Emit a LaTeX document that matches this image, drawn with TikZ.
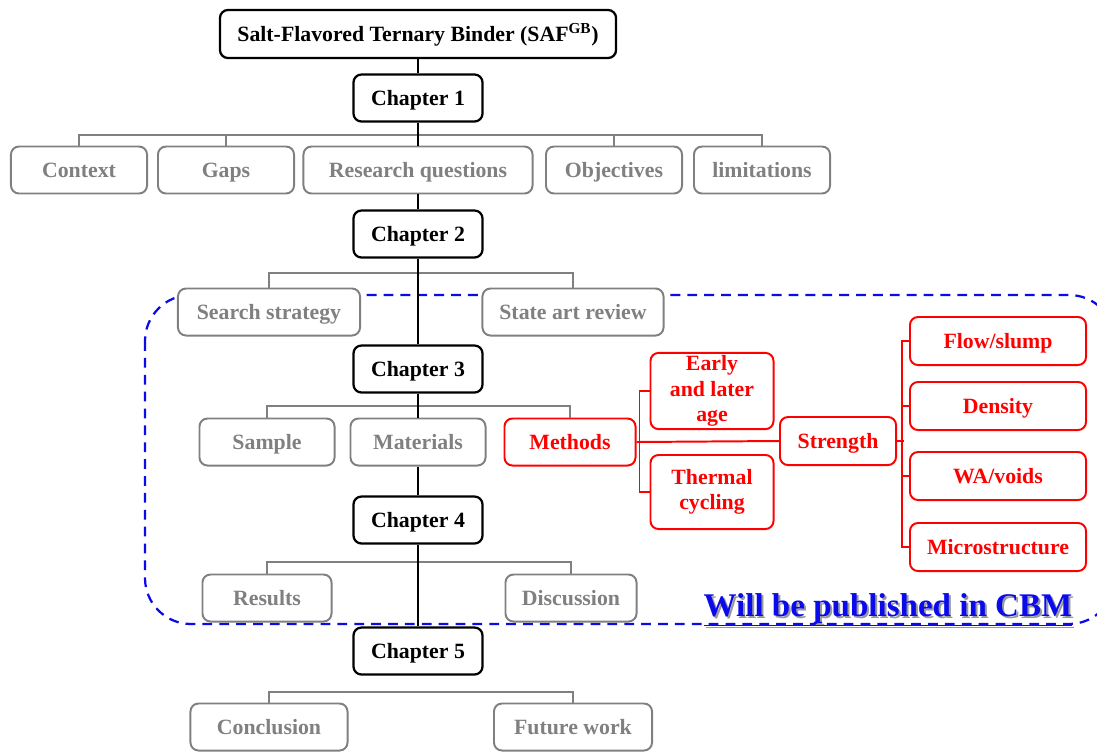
\documentclass[tikz,border=0pt]{standalone}
\usepackage{fontspec}
\setmainfont{Liberation Serif}
\usepackage{xcolor}
\usepackage{tikz}
\definecolor{boxgrey}{RGB}{128,128,128}
\definecolor{boxred}{RGB}{255,0,0}
\definecolor{cbmblue}{RGB}{10,10,235}

\begin{document}
\begin{tikzpicture}[x=0.025cm, y=-0.025cm, line width=1.4pt,
	every node/.style={font=\fontsize{15.5}{18}\selectfont\bfseries, align=center, inner sep=2pt},
	oneline/.style={text height=10.2pt, text depth=0pt},
	chapbox/.style={oneline, draw=black, fill=white, rounded corners=0.2cm, line width=1.6pt,
		minimum width=3.225cm, minimum height=1.175cm},
	greybox/.style={oneline, draw=boxgrey, fill=white, text=boxgrey, rounded corners=0.2cm,
		minimum height=1.175cm},
	redbox/.style={draw=boxred, fill=white, text=boxred, rounded corners=0.2cm,
		minimum height=1.2cm},
	branch/.style={draw=boxgrey},
	spine/.style={draw=black, line width=1.5pt},
	redline/.style={draw=boxred, line width=1.4pt}]
			\useasboundingbox (0,0) rectangle (1097,752);
			\clip (0,0) rectangle (1097,752);
			% dashed frame
			\draw[cbmblue, line width=1.6pt, dash pattern=on 7pt off 5pt, rounded corners=1.15cm]
				(145,295) rectangle (1115,624);
			% top
			\node[chapbox, minimum width=9.9cm, minimum height=1.2cm] (title) at (418,34)
				{Salt-Flavored Ternary Binder (SAF\textsuperscript{GB})};
			\node[chapbox] (ch1) at (418,98) {Chapter 1};
			\node[greybox, minimum width=3.4cm] (ctx) at (79,170) {Context};
			\node[greybox, minimum width=3.4cm] (gaps) at (226,170) {Gaps};
			\node[greybox, minimum width=5.725cm] (rq) at (418,170) {Research questions};
			\node[greybox, minimum width=3.4cm] (obj) at (614,170) {Objectives};
			\node[greybox, minimum width=3.4cm] (lim) at (762,170) {limitations};
			% chapter 2
			\node[chapbox] (ch2) at (418,234) {Chapter 2};
			\node[greybox, minimum width=4.55cm] (ss) at (269,312) {Search strategy};
			\node[greybox, minimum width=4.525cm] (sar) at (573,312) {State art review};
			% chapter 3
			\node[chapbox] (ch3) at (418,369) {Chapter 3};
			\node[greybox, minimum width=3.375cm] (smp) at (267,442) {Sample};
			\node[greybox, minimum width=3.375cm] (mat) at (418,442) {Materials};
			\node[redbox, oneline, minimum width=3.275cm, minimum height=1.175cm] (meth) at (570,442) {Methods};
			\node[redbox, minimum width=3.075cm, minimum height=1.85cm] (early) at (712,391)
				{Early\\and later\\age};
			\node[redbox, minimum width=3.075cm, minimum height=1.85cm] (therm) at (712,492)
				{Thermal\\cycling};
			\node[redbox, oneline, minimum width=2.9cm] (str) at (838,441) {Strength};
			\node[redbox, oneline, minimum width=4.4cm] (flow) at (998,341) {Flow/slump};
			\node[redbox, oneline, minimum width=4.4cm] (dens) at (998,406) {Density};
			\node[redbox, oneline, minimum width=4.4cm] (wa) at (998,476) {WA/voids};
			\node[redbox, oneline, minimum width=4.4cm] (micro) at (998,547) {Microstructure};
			% chapter 4
			\node[chapbox] (ch4) at (418,520) {Chapter 4};
			\node[greybox, minimum width=3.225cm] (res) at (267,598) {Results};
			\node[greybox, minimum width=3.275cm] (disc) at (571,598) {Discussion};
			% chapter 5
			\node[chapbox] (ch5) at (418,651) {Chapter 5};
			\node[greybox, minimum width=3.925cm] (concl) at (269,727) {Conclusion};
			\node[greybox, minimum width=3.95cm] (fut) at (573,727) {Future work};
			% label
			\node[text=black!40, font=\fontsize{23.5}{26}\selectfont\bfseries] (cbmshadow) at (890,612)
				{\underline{Will be published in CBM}};
			\node[text=cbmblue, font=\fontsize{23.5}{26}\selectfont\bfseries] (cbm) at (888,610)
				{\underline{Will be published in CBM}};
			% grey branches
			\draw[branch] (ctx.north) -- ++(0,-11) -| (lim.north);
			\draw[branch] (gaps.north) -- ++(0,-11);
			\draw[branch] (obj.north) -- ++(0,-11);
			\draw[branch] (ss.north) -- ++(0,-15) -| (sar.north);
			\draw[branch] (smp.north) -- ++(0,-12) -| (meth.north);
			\draw[branch] (res.north) -- ++(0,-12) -| (disc.north);
			\draw[branch] (concl.north) -- ++(0,-11) -| (fut.north);
			% red branches
			\draw[redline] (meth.east) -- (str.west);
			\draw[redline] (early.west) -- ++(-10,0) |- (therm.west);
			\draw[redline] (flow.west) -- ++(-7,0) |- (micro.west);
			\draw[redline] (dens.west) -- ++(-7,0);
			\draw[redline] (wa.west) -- ++(-7,0);
			\draw[redline] (str.east) -- ++(7,0);
			% spine
			\draw[spine] (title) -- (ch1) -- (rq) -- (ch2) -- (ch3) -- (mat) -- (ch4) -- (ch5);
		\end{tikzpicture}
\end{document}
